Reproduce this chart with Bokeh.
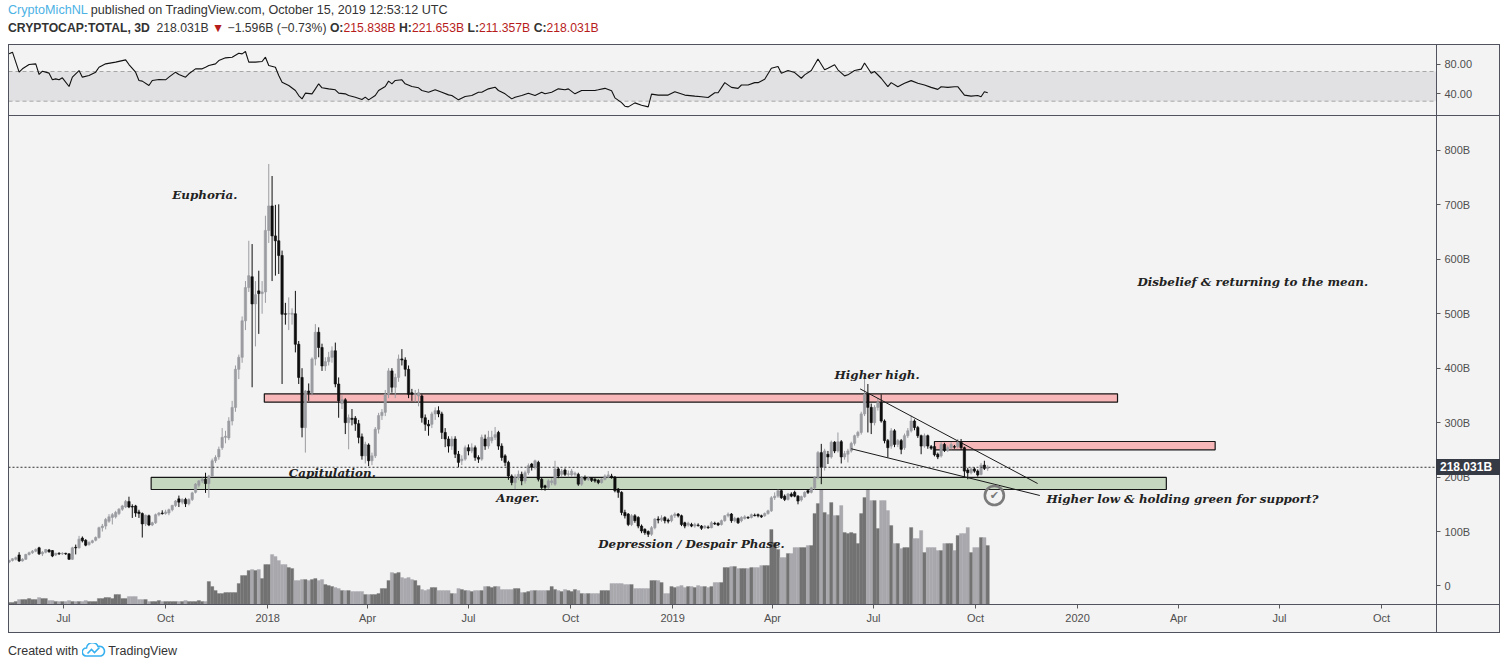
import pandas as pd
from bokeh.plotting import figure
from bokeh.models import (ColumnDataSource, Range1d, FixedTicker, CustomJSTickFormatter,
                          Div, Span, BoxAnnotation)
from bokeh.layouts import column
from bokeh.embed import file_html
from bokeh.resources import INLINE
from bokeh.core.properties import value

# ---------------- data (in billions USD) ----------------
first_candle = "2017-05-13"   # 3-day candles
opens = [
    44, 47, 49, 57, 46, 49, 58, 61, 64, 70,
    59, 62, 66, 65, 57, 60, 59, 60, 59, 49,
    71, 70, 88, 84, 76, 80, 84, 89, 107, 110,
    119, 126, 127, 133, 141, 145, 155, 146, 147, 136,
    133, 114, 129, 112, 116, 131, 134, 133, 134, 140,
    148, 160, 154, 159, 151, 159, 172, 185, 193, 196,
    188, 202, 230, 237, 254, 273, 272, 303, 328, 398,
    420, 487, 548, 568, 518, 542, 537, 540, 653, 698,
    643, 634, 607, 500, 500, 499, 500, 444, 383, 291,
    358, 355, 417, 466, 438, 404, 412, 420, 432, 371,
    335, 342, 300, 308, 308, 298, 274, 239, 259, 230,
    239, 288, 313, 319, 352, 395, 365, 383, 417, 415,
    398, 355, 352, 349, 349, 309, 297, 297, 316, 322,
    316, 282, 270, 257, 270, 242, 230, 233, 254, 248,
    254, 236, 233, 270, 257, 267, 273, 282, 257, 239,
    227, 202, 190, 199, 205, 193, 208, 224, 218, 227,
    196, 184, 181, 190, 187, 215, 205, 213, 205, 204,
    205, 205, 187, 199, 196, 198, 196, 194, 190, 196,
    200, 202, 200, 178, 172, 135, 132, 113, 129, 126,
    110, 104, 100, 95, 107, 123, 121, 126, 121, 120,
    129, 132, 129, 116, 112, 113, 110, 112, 110, 107,
    108, 107, 115, 115, 113, 120, 129, 132, 120, 124,
    120, 124, 126, 126, 130, 131, 129, 129, 133, 138,
    162, 165, 175, 165, 159, 169, 172, 165, 158, 164,
    175, 172, 180, 199, 245, 218, 242, 237, 264, 248,
    265, 237, 242, 248, 262, 276, 282, 316, 352, 328,
    300, 328, 337, 303, 267, 257, 285, 260, 267, 254,
    276, 285, 303, 291, 276, 257, 276, 256, 256, 242,
    239, 260, 249, 254, 256, 256, 264, 254, 213, 208,
    215, 211, 205, 222, 215.838,
]
highs = [
    48, 51, 54, 62, 51, 59, 63, 66, 69, 72,
    64, 68, 68, 66, 61, 62, 62, 61, 60, 72,
    76, 92, 91, 86, 82, 85, 91, 109, 114, 125,
    132, 134, 138, 143, 149, 158, 164, 150, 149, 140,
    135, 131, 131, 118, 133, 136, 139, 140, 142, 149,
    158, 166, 161, 162, 161, 173, 189, 195, 199, 208,
    204, 234, 240, 256, 290, 285, 310, 340, 405, 425,
    495, 560, 634, 628, 560, 579, 560, 680, 775, 753,
    700, 701, 616, 520, 530, 510, 542, 450, 400, 360,
    372, 420, 481, 475, 445, 420, 430, 440, 447, 383,
    350, 345, 315, 325, 312, 305, 280, 265, 262, 245,
    292, 318, 325, 360, 400, 400, 390, 425, 435, 420,
    405, 362, 360, 362, 352, 315, 305, 320, 328, 330,
    320, 290, 275, 275, 275, 248, 240, 258, 260, 262,
    258, 240, 278, 278, 285, 285, 292, 285, 262, 242,
    230, 205, 205, 212, 210, 212, 225, 226, 232, 230,
    199, 186, 196, 198, 230, 218, 215, 216, 212, 215,
    210, 208, 202, 203, 201, 200, 198, 196, 198, 205,
    211, 206, 202, 180, 174, 140, 134, 132, 132, 128,
    113, 106, 102, 110, 125, 128, 130, 128, 124, 131,
    135, 134, 131, 118, 118, 116, 116, 115, 112, 112,
    111, 119, 118, 117, 122, 130, 135, 134, 127, 126,
    128, 130, 128, 133, 133, 133, 131, 135, 140, 165,
    172, 177, 178, 168, 171, 172, 175, 167, 166, 174,
    177, 182, 202, 248, 261, 252, 248, 267, 266, 282,
    268, 248, 252, 265, 278, 285, 320, 383, 371, 335,
    332, 345, 352, 306, 270, 290, 288, 270, 270, 280,
    290, 313, 306, 294, 278, 280, 278, 259, 258, 245,
    264, 263, 258, 264, 259, 270, 270, 256, 217, 218,
    218, 214, 226, 230, 221.653,
]
lows = [
    42, 45, 47, 44, 45, 48, 56, 59, 62, 57,
    55, 60, 61, 53, 55, 57, 57, 57, 48, 48,
    58, 69, 80, 73, 74, 78, 82, 87, 100, 104,
    116, 113, 124, 130, 138, 143, 143, 125, 127, 125,
    89, 110, 110, 110, 114, 128, 131, 131, 130, 137,
    145, 145, 150, 145, 148, 156, 170, 181, 189, 171,
    162, 200, 226, 232, 250, 262, 268, 295, 320, 380,
    410, 470, 540, 365, 440, 463, 500, 520, 630, 560,
    570, 573, 371, 480, 470, 480, 429, 371, 273, 245,
    340, 350, 405, 420, 395, 395, 405, 410, 365, 309,
    325, 279, 251, 295, 285, 262, 232, 225, 220, 222,
    235, 280, 305, 312, 345, 355, 345, 375, 405, 385,
    345, 340, 338, 330, 300, 285, 276, 290, 305, 310,
    270, 255, 245, 250, 235, 218, 222, 230, 240, 244,
    230, 226, 230, 250, 252, 262, 268, 250, 230, 220,
    195, 185, 178, 195, 185, 188, 204, 212, 214, 192,
    176, 175, 178, 185, 184, 198, 200, 202, 200, 200,
    200, 184, 184, 193, 193, 191, 190, 187, 188, 194,
    198, 197, 172, 162, 130, 124, 110, 110, 116, 106,
    97, 94, 90, 92, 104, 115, 118, 115, 115, 117,
    125, 126, 110, 106, 109, 108, 107, 109, 103, 105,
    105, 106, 112, 110, 111, 118, 126, 116, 117, 114,
    117, 122, 123, 124, 128, 126, 125, 127, 131, 136,
    158, 162, 160, 156, 157, 163, 163, 150, 155, 162,
    169, 170, 177, 196, 187, 212, 224, 234, 244, 245,
    225, 232, 227, 245, 258, 272, 278, 312, 282, 279,
    295, 322, 300, 262, 236, 252, 255, 255, 242, 250,
    272, 282, 286, 272, 242, 254, 252, 250, 238, 233,
    236, 246, 246, 251, 252, 253, 250, 199, 196, 205,
    208, 201, 203, 213, 211.357,
]
closes = [
    47, 50, 52, 46, 49, 58, 61, 64, 67, 59,
    62, 67, 63, 55, 60, 59, 60, 59, 49, 70,
    70, 86, 83, 75, 80, 83, 89, 107, 110, 122,
    127, 131, 135, 141, 147, 155, 145, 145, 134, 133,
    114, 130, 112, 116, 131, 134, 133, 136, 140, 148,
    156, 154, 159, 151, 159, 171, 187, 193, 196, 188,
    202, 230, 236, 251, 273, 275, 303, 328, 398, 420,
    487, 548, 570, 518, 535, 537, 540, 653, 698, 643,
    634, 607, 499, 499, 500, 501, 444, 383, 291, 358,
    355, 417, 466, 438, 404, 412, 420, 432, 371, 340,
    342, 300, 309, 306, 298, 273, 239, 260, 230, 239,
    288, 313, 319, 352, 395, 365, 383, 417, 415, 398,
    352, 352, 353, 355, 309, 297, 294, 316, 322, 316,
    282, 270, 257, 270, 242, 227, 233, 254, 248, 254,
    236, 233, 273, 257, 273, 273, 278, 257, 236, 227,
    202, 190, 199, 205, 193, 208, 221, 218, 230, 196,
    181, 181, 193, 193, 215, 202, 211, 205, 206, 211,
    207, 187, 199, 196, 198, 194, 193, 190, 196, 202,
    204, 199, 175, 172, 135, 129, 113, 129, 120, 110,
    101, 98, 95, 107, 123, 121, 125, 120, 119, 129,
    132, 129, 113, 110, 115, 110, 113, 111, 106, 110,
    107, 116, 114, 112, 120, 129, 132, 120, 124, 116,
    126, 127, 125, 131, 129, 129, 127, 133, 138, 162,
    165, 175, 162, 159, 169, 165, 165, 156, 164, 172,
    172, 180, 199, 245, 218, 248, 237, 264, 248, 265,
    237, 243, 248, 262, 276, 282, 316, 352, 328, 300,
    328, 337, 303, 267, 254, 285, 260, 267, 251, 276,
    285, 303, 291, 276, 257, 276, 257, 253, 241, 237,
    260, 249, 254, 260, 255, 264, 254, 211, 208, 215,
    211, 204, 222, 216, 218.031,
]
# volume (relative units)
volumes = [
    2, 2, 3, 5, 5, 5, 6, 5, 5, 7,
    6, 6, 4, 4, 3, 3, 3, 3, 4, 3,
    3, 3, 3, 4, 3, 3, 3, 6, 6, 7,
    7, 6, 10, 10, 6, 6, 8, 8, 8, 5,
    5, 5, 3, 3, 3, 4, 3, 3, 3, 3,
    3, 3, 3, 4, 3, 3, 3, 4, 3, 3,
    23, 18, 14, 11, 11, 12, 12, 12, 12, 21,
    29, 29, 34, 35, 34, 35, 26, 40, 40, 50,
    48, 44, 40, 40, 37, 36, 24, 24, 25, 25,
    24, 25, 26, 24, 25, 20, 19, 18, 17, 16,
    14, 14, 14, 13, 13, 13, 13, 10, 10, 10,
    10, 11, 16, 16, 24, 32, 31, 32, 27, 26,
    27, 25, 24, 19, 15, 14, 15, 17, 17, 14,
    14, 14, 14, 11, 11, 16, 15, 14, 14, 13,
    14, 14, 14, 18, 18, 17, 18, 18, 15, 15,
    15, 15, 16, 16, 12, 12, 13, 14, 14, 14,
    14, 14, 14, 18, 15, 14, 13, 15, 14, 13,
    15, 14, 11, 11, 11, 11, 11, 11, 14, 14,
    14, 21, 21, 21, 21, 20, 20, 20, 16, 16,
    16, 16, 16, 24, 24, 24, 22, 11, 11, 18,
    17, 18, 19, 17, 18, 18, 17, 19, 18, 18,
    17, 18, 22, 22, 22, 37, 37, 38, 38, 36,
    36, 36, 36, 37, 37, 37, 39, 39, 39, 75,
    62, 55, 47, 47, 51, 51, 57, 57, 57, 57,
    59, 59, 91, 101, 117, 92, 90, 102, 89, 89,
    99, 72, 71, 72, 71, 61, 91, 107, 121, 104,
    104, 76, 104, 104, 94, 79, 61, 61, 56, 57,
    57, 77, 66, 66, 74, 52, 57, 57, 57, 54,
    54, 61, 61, 61, 54, 69, 71, 71, 77, 52,
    57, 57, 67, 67, 59,
]
# RSI line vertices: candle index and RSI value
rsi_idx = [0, 1, 3, 4, 6, 8, 9, 10, 12, 13, 14, 15, 16, 18, 19, 20, 21, 22, 24, 26,
           27, 29, 32, 35, 36, 38, 39, 40, 42, 43, 45, 47, 48, 50, 51, 53, 54, 56, 58, 59,
           60, 62, 63, 65, 67, 69, 70, 71, 72, 74, 76, 77, 78, 80, 81, 82, 84, 86, 87, 88,
           89, 91, 92, 93, 94, 96, 98, 99, 101, 102, 104, 106, 107, 108, 110, 111, 113, 114, 115, 116,
           118, 119, 121, 123, 124, 126, 128, 130, 132, 133, 135, 137, 139, 141, 142, 144, 146, 147, 149, 151,
           152, 154, 156, 158, 160, 161, 163, 165, 167, 168, 170, 172, 174, 176, 177, 179, 181, 182, 184, 185,
           186, 188, 190, 192, 193, 195, 198, 200, 203, 206, 208, 210, 212, 213, 215, 217, 219, 220, 222, 224,
           225, 227, 229, 231, 232, 234, 236, 238, 239, 241, 243, 245, 246, 248, 249, 251, 252, 254, 256, 257,
           259, 260, 262, 264, 265, 267, 269, 271, 273, 275, 277, 279, 280, 282, 284, 285, 287, 289, 291, 292,
           293, 294]
rsi_val = [93.8, 96.1, 69.1, 73.6, 79.4, 80.3, 66.0, 70.4, 67.8, 58.8, 60.1, 58.8, 61.5, 49.8, 62.4, 66.9, 71.3, 62.4, 64.6, 69.1,
           75.8, 80.3, 82.6, 85.7, 79.4, 69.1, 57.9, 57.0, 51.1, 57.9, 59.2, 58.8, 62.4, 69.1, 66.0, 62.4, 66.9, 73.6, 73.6, 75.8,
           78.1, 80.3, 84.8, 88.4, 89.3, 94.7, 93.8, 97.0, 82.6, 82.6, 83.5, 89.3, 78.1, 75.8, 64.6, 55.6, 51.1, 44.4, 37.6, 33.1,
           40.8, 39.9, 46.6, 53.4, 48.0, 46.6, 45.3, 40.8, 39.9, 37.6, 35.4, 32.2, 35.4, 31.8, 37.6, 44.4, 49.8, 57.0, 53.4, 57.9,
           58.8, 53.4, 49.8, 48.0, 44.4, 42.1, 45.3, 42.1, 38.5, 37.6, 31.8, 36.3, 37.6, 42.1, 42.1, 46.6, 48.9, 44.4, 39.9, 33.1,
           35.4, 37.6, 40.8, 37.6, 42.1, 39.9, 42.1, 46.6, 45.3, 46.6, 39.9, 44.4, 44.4, 44.4, 45.3, 47.3, 44.0, 34.5, 28.0, 23.2,
           22.3, 27.7, 24.5, 22.3, 39.5, 38.2, 38.2, 42.7, 38.2, 36.8, 35.9, 35.0, 41.4, 41.4, 55.0, 48.6, 47.3, 51.8, 51.8, 55.0,
           55.0, 59.5, 74.5, 76.8, 67.7, 71.4, 68.6, 60.9, 65.5, 71.4, 86.8, 72.3, 74.5, 79.1, 72.3, 64.1, 65.5, 71.4, 73.2, 81.4,
           67.7, 70.0, 60.9, 49.5, 55.0, 49.5, 54.1, 57.7, 54.1, 51.8, 48.6, 45.9, 49.5, 48.6, 49.5, 49.5, 38.2, 36.8, 37.7, 35.9,
           42.7, 41.4]

# drawn zones (support/resistance boxes)
zone_start = ["2017-12-29", "2019-08-25", "2017-09-18"]
zone_end = ["2020-02-06", "2020-05-04", "2020-03-21"]
zone_top = [353.0, 265.4, 199.3]
zone_bottom = [337.6, 250.1, 177.2]
zone_color = ["#f7b7b8", "#f7b7b8", "#c6d7bf"]

# wedge lines
upper_dates = ["2019-06-19", "2019-11-26"]
upper_vals = [362.0, 188.2]
lower_dates = ["2019-06-11", "2019-11-28"]
lower_vals = [252.0, 166.2]

# annotations
ann_text = ["Euphoria.", "Capitulation.", "Anger.", "Depression / Despair Phase.",
            "Higher high.", "Disbelief & returning to the mean.",
            "Higher low & holding green for support?"]
ann_date = ["2017-10-07", "2018-01-20", "2018-07-26", "2018-10-26",
            "2019-05-27", "2020-02-24", "2019-12-04"]
ann_val = [719.0, 208.4, 162.5, 76.2, 388.4, 557.4, 158.9]
check_date = ["2019-10-18"]
check_val = [166.2]

last_close = 218.031
price_ticks = [0, 100, 200, 300, 400, 500, 600, 700, 800]
rsi_ticks = [40, 80]

# ---------------- build ----------------
BG = "#f3f3f3"
LINE = "#50535e"
UP = "#9b9ca1"
DOWN = "#0e0e0e"
VOL_UP = "#727272"
VOL_DOWN = "#a8a8ad"
TICK_FONT = "Liberation Sans"

W = 1492          # layout width
RIGHT = 64        # price-axis column
HDR_H = 36
RSI_H = 71
MAIN_FRAME_H = 489
XAXIS_H = 28
FOOT_H = 26
Y_TOP, Y_BOT = 864.1, -34.0

dates = pd.date_range(first_candle, periods=len(closes), freq="3D")
up = [c >= o for o, c in zip(opens, closes)]
src = ColumnDataSource(dict(
    date=dates, open=opens, high=highs, low=lows, close=closes,
    top=[max(o, c) for o, c in zip(opens, closes)],
    bottom=[min(o, c) for o, c in zip(opens, closes)],
    color=[UP if u else DOWN for u in up],
    vol=volumes,
    vcolor=[VOL_UP if u else VOL_DOWN for u in up],
))

DAY = 86400000
x_range = Range1d(pd.Timestamp("2017-05-12 10:15"), pd.Timestamp("2020-11-19 12:00"))

# RSI panel
rsi = figure(width=W, height=RSI_H, x_range=x_range, y_range=Range1d(10.7, 106.4),
             x_axis_type="datetime", y_axis_location="right",
             output_backend="svg", toolbar_location=None, margin=(0, 0, 0, 0),
             min_border_left=0, min_border_right=RIGHT, min_border_top=0, min_border_bottom=0,
             background_fill_color=BG, border_fill_color=BG, outline_line_color=None)
rsi.xaxis.visible = False
rsi.grid.visible = False
rsi.add_layout(BoxAnnotation(bottom=30, top=70, fill_color="#e1e1e3", fill_alpha=1,
                             line_color=None, level="underlay"))
for lv in (30, 70):
    rsi.add_layout(Span(location=lv, dimension="width", line_color="#a6a6a6",
                        line_dash="4 3", line_width=1, level="underlay"))
rsi.line(x=[dates[i] for i in rsi_idx], y=rsi_val, line_color="#111111", line_width=1.1)
rsi.yaxis.ticker = FixedTicker(ticks=rsi_ticks)
rsi.yaxis.formatter = CustomJSTickFormatter(code="return tick.toFixed(2);")

# Main price panel
p = figure(width=W, height=MAIN_FRAME_H + XAXIS_H, x_range=x_range, y_range=Range1d(Y_BOT, Y_TOP),
           x_axis_type="datetime", y_axis_location="right",
           output_backend="svg", toolbar_location=None, margin=(0, 0, 0, 0),
           min_border_left=0, min_border_right=RIGHT, min_border_top=0, min_border_bottom=XAXIS_H,
           background_fill_color=BG, border_fill_color=BG, outline_line_color=None)
p.grid.visible = False
p.extra_y_ranges = {"vol": Range1d(0, MAIN_FRAME_H)}

p.vbar(x="date", width=3 * DAY, top="vol", bottom=0, y_range_name="vol",
       fill_color="vcolor", line_color="vcolor", line_width=0.3, source=src)

zsrc = ColumnDataSource(dict(left=pd.to_datetime(zone_start), right=pd.to_datetime(zone_end),
                             top=zone_top, bottom=zone_bottom, color=zone_color))
p.quad(left="left", right="right", top="top", bottom="bottom", fill_color="color",
       line_color="#161616", line_width=1.2, source=zsrc)

p.segment(x0="date", y0="low", x1="date", y1="high", line_color="color", line_width=1, source=src)
p.vbar(x="date", width=2.1 * DAY, top="top", bottom="bottom", fill_color="color",
       line_color="color", line_width=0.6, source=src)

p.line(x=pd.to_datetime(upper_dates), y=upper_vals, line_color="#1a1a1a", line_width=1)
p.line(x=pd.to_datetime(lower_dates), y=lower_vals, line_color="#1a1a1a", line_width=1)

p.add_layout(Span(location=last_close, dimension="width", line_color="#333333",
                  line_dash="2 2", line_width=1))

p.text(x=pd.to_datetime(ann_date), y=ann_val, text=ann_text,
       text_font=value("DejaVu Serif"), text_font_style="bold italic",
       text_font_size="11.9px", text_color="#222222",
       text_align="left", text_baseline="middle")

p.scatter(x=pd.to_datetime(check_date), y=check_val, marker="circle", size=19,
          fill_color=None, line_color="#7b7b7b", line_width=2.6)
p.text(x=pd.to_datetime(check_date), y=check_val, text=["\u2714"],
       text_font=value("DejaVu Sans"), text_font_size="11px",
       text_color="#7b7b7b", text_align="center", text_baseline="middle")

p.yaxis.ticker = FixedTicker(ticks=price_ticks)
p.yaxis.formatter = CustomJSTickFormatter(code="return tick == 0 ? '0' : tick.toFixed(0) + 'B';")

quarters = pd.date_range("2017-07-01", "2020-10-01", freq="QS")
p.xaxis.ticker = FixedTicker(ticks=[t.value // 10**6 for t in quarters])
p.xaxis.formatter = CustomJSTickFormatter(code="""
const d = new Date(tick);
const m = d.getUTCMonth();
if (m == 0) { return String(d.getUTCFullYear()); }
return ["Jan","Feb","Mar","Apr","May","Jun","Jul","Aug","Sep","Oct","Nov","Dec"][m];
""")

for ax in (p.xaxis[0], p.yaxis[0], rsi.yaxis[0]):
    ax.axis_line_color = None
    ax.major_tick_line_color = "#5a5a5a"
    ax.major_tick_out = 4
    ax.major_tick_in = 0
    ax.minor_tick_line_color = None
    ax.major_label_text_font = TICK_FONT
    ax.major_label_text_font_size = "11px"
    ax.major_label_text_color = "#4f4f4f"
    ax.major_label_standoff = 4
p.xaxis[0].major_label_standoff = 3

# header, panel borders, last-price tag and footer (HTML)
red = "#b71c1c"
hdr_text = (
    '<div style="position:relative;top:-7px;left:0;font-family:\'Liberation Sans\',sans-serif;'
    'line-height:18px;color:#333;white-space:nowrap">'
    '<div style="font-size:12.6px"><span style="color:#4cb2e4">CryptoMichNL</span> published on TradingView.com, '
    'October 15, 2019 12:53:12 UTC</div>'
    '<div style="font-size:12.2px"><b>CRYPTOCAP:TOTAL, 3D</b>&nbsp; 218.031B '
    f'<span style="color:{red}">&#9660;</span> &minus;1.596B (&minus;0.73%) '
    f'<b>O:</b><span style="color:{red}">215.838B</span> '
    f'<b>H:</b><span style="color:{red}">221.653B</span> '
    f'<b>L:</b><span style="color:{red}">211.357B</span> '
    f'<b>C:</b><span style="color:{red}">218.031B</span></div></div>'
)
main_top = HDR_H + RSI_H
box_h = RSI_H + MAIN_FRAME_H + XAXIS_H + 1
ov = "position:absolute;pointer-events:none;z-index:20;"
borders = (
    f'<div style="{ov}left:0;top:{HDR_H}px;width:{W}px;height:{box_h}px;box-sizing:border-box;border:1px solid {LINE}"></div>'
    f'<div style="{ov}left:{W - RIGHT}px;top:{HDR_H}px;width:1px;height:{box_h}px;background:{LINE}"></div>'
    f'<div style="{ov}left:0;top:{main_top}px;width:{W}px;height:1px;background:{LINE}"></div>'
    f'<div style="{ov}left:0;top:{main_top + MAIN_FRAME_H}px;width:{W}px;height:1px;background:{LINE}"></div>'
)
# last price tag in the price-axis column, placed with the main panel's own value range
tag_center = main_top + (Y_TOP - last_close) / (Y_TOP - Y_BOT) * MAIN_FRAME_H
tag = (f'<div style="{ov}left:{W - RIGHT}px;top:{tag_center - 8:.1f}px;width:{RIGHT}px;height:16px;'
       'background:#363a45;color:#fff;font-family:\'Liberation Sans\',sans-serif;font-weight:bold;'
       f'font-size:12px;line-height:16px;padding-left:4px;box-sizing:border-box">{last_close:.3f}B</div>')
header = Div(text=f'<div style="position:relative;width:{W}px;height:{HDR_H}px">{hdr_text}{borders}{tag}</div>',
             width=W, height=HDR_H, margin=(0, 0, 0, 0))

logo = ('<svg width="24" height="14" viewBox="0 0 24 14" style="vertical-align:-2px;margin:0 2px 0 4px">'
        '<path d="M4 13 a4 4 0 0 1 0.5-8 a6 6 0 0 1 11.5-1.5 a4.6 4.6 0 0 1 3 9.5 z" fill="none" '
        'stroke="#36b0ef" stroke-width="1.6"/>'
        '<path d="M5.5 10.5 l4-4 3 3 5-5" fill="none" stroke="#36b0ef" stroke-width="1.6"/></svg>')
footer = Div(text=('<div style="font-family:\'Liberation Sans\',sans-serif;font-size:12.5px;color:#333;'
                   f'padding-top:11px;white-space:nowrap">Created with{logo}TradingView</div>'),
             width=W, height=FOOT_H, margin=(0, 0, 0, 0))

layout = column(header, rsi, p, footer, spacing=0, margin=(8, 0, 0, 8))
open("out.html", "w").write(file_html(layout, INLINE))
